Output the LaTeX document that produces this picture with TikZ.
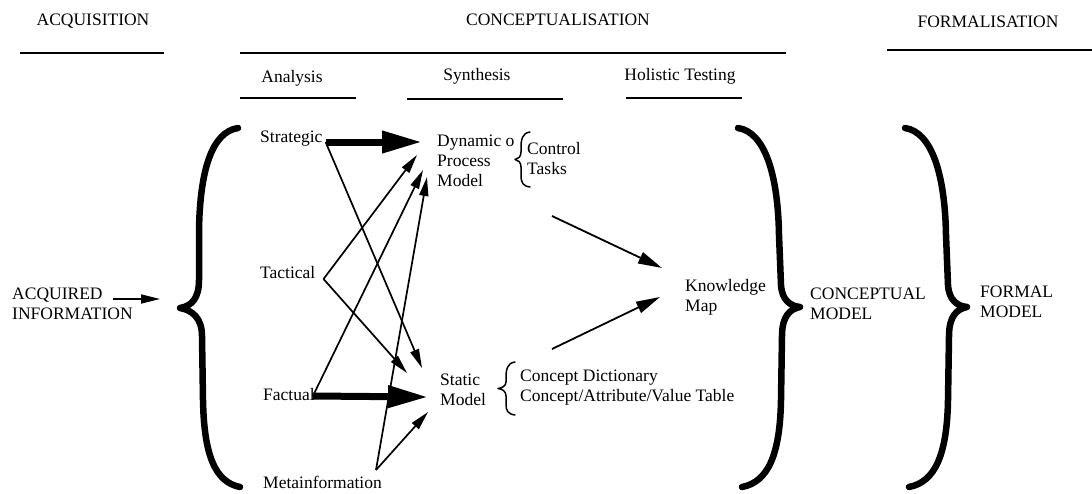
\documentclass[tikz,border=0pt]{standalone}
\usepackage{fontspec}
\setmainfont{Liberation Serif}
\usetikzlibrary{arrows.meta,calc}
\begin{document}
\begin{tikzpicture}[x=1pt,y=-1pt,
  lbl/.style={inner sep=0pt, font=\fontsize{17.5}{20}\selectfont, align=left, anchor=west},
  hdr/.style={inner sep=0pt, font=\fontsize{17.5}{20}\selectfont},
  hline/.style={line width=2pt},
  farrow/.style={line width=1.7pt, -{Triangle[length=19pt,width=9pt]}},
  heavyarrow/.style={line width=7pt, -{Triangle[length=40pt,width=21pt]}},
  kmarrow/.style={line width=1.8pt, -{Triangle[length=24pt,width=12pt]}},
  bigbrace/.style={line width=6.5pt, line cap=round, line join=round},
  smallbrace/.style={line width=1.5pt, line cap=round, line join=round}]
\useasboundingbox (0,0) rectangle (1092,493);

% phase headings and their rules
\node[hdr] (acqH)  at (93,21)  {ACQUISITION};
\node[hdr] (conH)  at (558,20) {CONCEPTUALISATION};
\node[hdr] (formH) at (988,22) {FORMALISATION};
\draw[hline] (20,53) -- (164,53);
\draw[hline] (240,53) -- (786,53);
\draw[hline] (887,50) -- (1092,50);

\node[hdr] (anaH) at (292,78) {Analysis};
\node[hdr] (synH) at (477,76) {Synthesis};
\node[hdr] (holH) at (680,76) {Holistic Testing};
\draw[hline] (240,98) -- (356,98);
\draw[hline] (407,99) -- (563,99);
\draw[hline] (626,98) -- (742,98);

% text nodes
\node[lbl] (acq)   at (12,303.5) {ACQUIRED\\INFORMATION};
\node[lbl] (strat) at (260,139) {Strategic};
\node[lbl] (tact)  at (260,273) {Tactical};
\node[lbl] (fact)  at (263,395) {Factual};
\node[lbl] (meta)  at (263,482) {Metainformation};
\node[lbl] (dyn)   at (437,161) {Dynamic o\\Process\\Model};
\node[lbl] (ctl)   at (527,158.5) {Control\\Tasks};
\node[lbl] (stat)  at (440,390) {Static\\Model};
\node[lbl] (dict)  at (520,388) {Concept Dictionary\\Concept/Attribute/Value Table};
\node[lbl] (km)    at (685,297) {Knowledge\\Map};
\node[lbl] (cm)    at (810,304) {CONCEPTUAL\\MODEL};
\node[lbl] (fm)    at (980,302) {FORMAL\\MODEL};

% big braces
\coordinate (lbTip) at (180,308);
\draw[bigbrace] (238,128) .. controls (212,132) and (200,170) .. (199,230)
  -- (199,280) .. controls (199,298) and (192,306) .. (lbTip)
  .. controls (192,310) and (202,318) .. (202,336)
  -- (203,400) .. controls (204,455) and (215,482) .. (240,487);
\foreach \dx in {0,167}{
  \begin{scope}[shift={(\dx,0)}]
    \draw[bigbrace] (738,128) .. controls (765,132) and (778,175) .. (779,235)
      -- (781,285) .. controls (782,300) and (790,306) .. (800,307)
      .. controls (790,309) and (782,316) .. (782,336)
      -- (781,400) .. controls (780,455) and (768,482) .. (742,487);
  \end{scope}
}

% small braces
\draw[smallbrace] (530,132) .. controls (522,133) and (521,140) .. (521,148)
  -- (521,152) .. controls (521,157) and (518,159) .. (515,159.5)
  .. controls (518,160) and (521,162) .. (521,167)
  -- (521,175) .. controls (521,183) and (523,186) .. (530,187);
\draw[smallbrace] (515,362) .. controls (507,363) and (506,370) .. (506,378)
  -- (506,382) .. controls (506,386) and (502,388) .. (498,388.5)
  .. controls (502,389) and (506,391) .. (506,396)
  -- (506,404) .. controls (506,411) and (508,414) .. (515,415);

% connector end points
\coordinate (acqEnd) at ($(lbTip)+(-20,-9)$);
\coordinate (sOut) at ($(strat.east)+(3,3)$);
\coordinate (tOut) at ($(tact.east)+(8,6)$);
\coordinate (fOut) at ($(fact.east)+(-2,1)$);
\coordinate (mOut) at ($(meta.east)+(-6,-12)$);
\coordinate (d1) at ($(dyn.west)+(-15,-19)$);
\coordinate (d2) at ($(dyn.west)+(-20,-6)$);
\coordinate (d3) at ($(dyn.west)+(-14,9)$);
\coordinate (d4) at ($(dyn.west)+(-10,16)$);
\coordinate (s1) at ($(stat.west)+(-18,-22)$);
\coordinate (s2) at ($(stat.west)+(-33,-17)$);
\coordinate (s3) at ($(stat.west)+(-12,7)$);
\coordinate (s4) at ($(stat.west)+(-12,22)$);

% connectors
\draw[farrow] ($(acq.east)+(-20,-4.5)$) -- (acqEnd);
\draw[heavyarrow] (sOut) -- (d1);
\draw[farrow] (sOut) -- (s1);
\draw[farrow] (tOut) -- (d2);
\draw[farrow] (tOut) -- (s2);
\draw[farrow] (fOut) -- (d3);
\draw[heavyarrow] (fOut) -- (s3);
\draw[farrow] (mOut) -- (d4);
\draw[farrow] (mOut) -- (s4);
\draw[kmarrow] ($(dyn.west)+(115,55)$) -- ($(km.west)+(-23,-29)$);
\draw[kmarrow] ($(stat.west)+(112,-41)$) -- ($(km.west)+(-25,0)$);
\end{tikzpicture}
\end{document}
